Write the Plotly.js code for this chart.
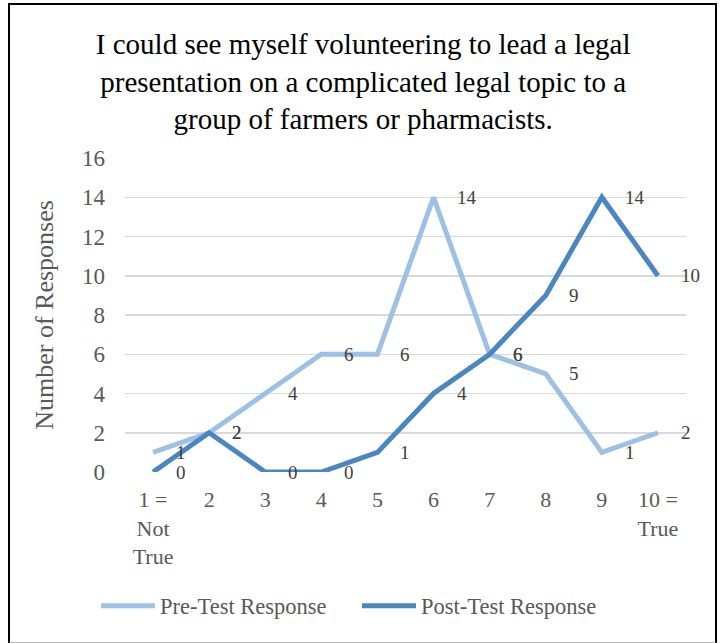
<!DOCTYPE html>
<html>
<head>
<meta charset="utf-8">
<script src="https://cdn.plot.ly/plotly-3.0.1.min.js"></script>
<style>
  html, body { margin:0; padding:0; background:#fff; }
  #wrap { position:relative; width:722px; height:643px; }
  #chart { position:absolute; left:0; top:0; width:722px; height:643px; }
  #frame { position:absolute; left:8px; top:3px; width:705px; height:637px;
           border-left:2px solid #000; border-top:2px solid #000; border-right:2px solid #000;
           border-bottom:2px solid #bbb; pointer-events:none; }
</style>
</head>
<body>
<div id="wrap"><div id="chart"></div><div id="frame"></div></div>
<script>
const categories = [1, 2, 3, 4, 5, 6, 7, 8, 9, 10];
const tickLabels = ["1 =<br>Not<br>True", "2", "3", "4", "5", "6", "7", "8", "9", "10 =<br>True"];
const preTest = [1, 2, 4, 6, 6, 14, 6, 5, 1, 2];
const postTest = [0, 2, 0, 0, 1, 4, 6, 9, 14, 10];
const seriesNames = ["Pre-Test Response", "Post-Test Response"];
const titleText = "I could see myself volunteering to lead a legal<br>presentation on a complicated legal topic to a<br>group of farmers or pharmacists.";

const serif = "'Liberation Serif', 'Times New Roman', Times, serif";
const preColor = "#9DC0E4";
const postColor = "#4A87C1";

const traces = [
  { x: categories, y: preTest, name: seriesNames[0], mode: "lines",
    line: { color: preColor, width: 5 }, hoverinfo: "none" },
  { x: categories, y: postTest, name: seriesNames[1], mode: "lines",
    line: { color: postColor, width: 5 }, hoverinfo: "none" }
];

const annotations = [];
[preTest, postTest].forEach(vals => {
  vals.forEach((v, i) => {
    annotations.push({ x: categories[i], y: v, xref: "x", yref: "y", text: String(v),
      showarrow: false, xanchor: "left", yanchor: "middle", xshift: 21,
      font: { family: serif, size: 19, color: "#404040" } });
  });
});

const layout = {
  width: 722, height: 643,
  margin: { l: 125, r: 36, t: 158, b: 171 },
  paper_bgcolor: "#fff", plot_bgcolor: "#fff",
  title: { text: titleText, font: { family: serif, size: 29, color: "#000" },
           x: 0.503, xref: "container", xanchor: "center",
           y: 1 - 54/643, yref: "container", yanchor: "middle" },
  xaxis: { range: [0.5, 10.5], tickvals: categories, ticktext: tickLabels,
           showgrid: false, zeroline: false, showline: false, ticks: "", ticklabelstandoff: 12,
           tickfont: { family: serif, size: 22, color: "#595959" }, fixedrange: true },
  yaxis: { range: [0, 16], dtick: 2, showgrid: true, gridcolor: "#D9D9D9", gridwidth: 1.5,
           zeroline: false, showline: false, ticks: "", ticklabelstandoff: 19,
           tickfont: { family: serif, size: 23, color: "#595959" },
           title: { text: "Number of Responses", font: { family: serif, size: 26, color: "#595959" }, standoff: 20 },
           fixedrange: true },
  showlegend: true,
  legend: { orientation: "h", xref: "container", yref: "container", x: 96/722, xanchor: "left",
            y: 1 - 606/643, yanchor: "middle", font: { family: serif, size: 22.5, color: "#595959" },
            itemwidth: 54, entrywidth: 192, entrywidthmode: "pixels" },
  annotations: annotations
};

Plotly.newPlot("chart", traces, layout, { displayModeBar: false, staticPlot: true });
</script>
</body>
</html>
